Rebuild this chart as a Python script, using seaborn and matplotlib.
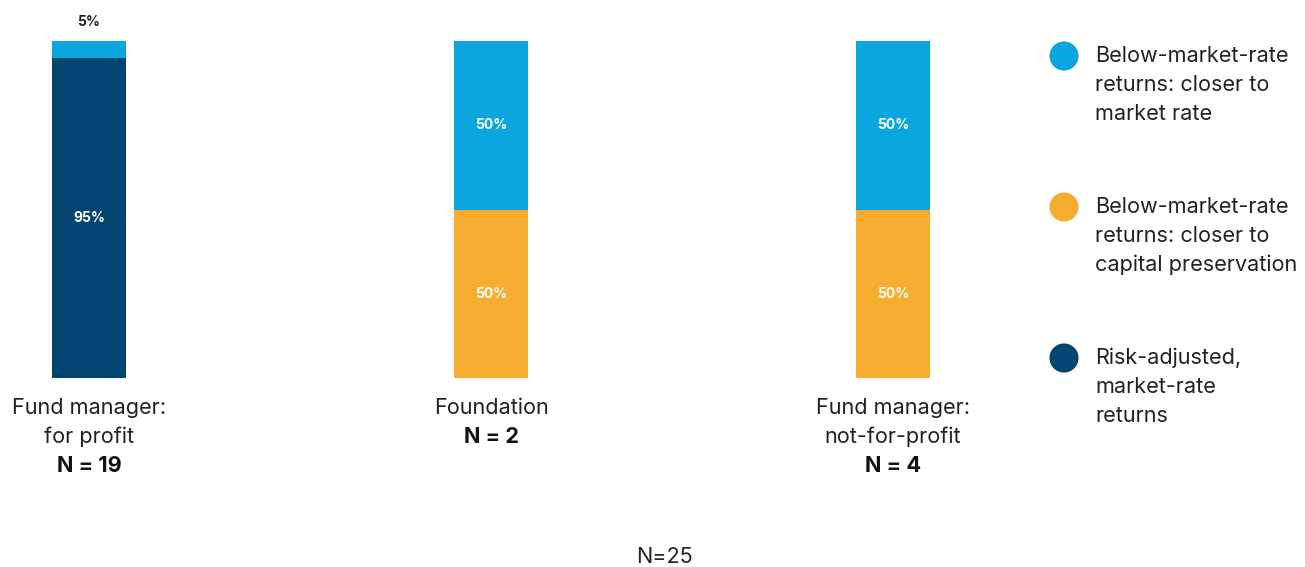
import numpy as np
import pandas as pd
import seaborn as sns
import matplotlib.pyplot as plt

# data
groups = ["for_profit", "foundation", "not_for_profit"]
group_labels = [["Fund manager:", "for profit"], ["Foundation"], ["Fund manager:", "not-for-profit"]]
group_n = [19, 2, 4]
market_rate = [95, 0, 0]          # Risk-adjusted, market-rate returns
capital_pres = [0, 50, 50]        # Below-market-rate: closer to capital preservation
closer_market = [5, 50, 50]       # Below-market-rate: closer to market rate
total_n = 25

series_names = [["Below-market-rate", "returns: closer to", "market rate"],
                ["Below-market-rate", "returns: closer to", "capital preservation"],
                ["Risk-adjusted,", "market-rate", "returns"]]
c_blue, c_orange, c_navy = "#0CA6DF", "#F7AE30", "#044470"

sns.set_style("white")
plt.rcParams['font.family'] = ['Inter', 'DejaVu Sans']

df = pd.DataFrame({'group': groups, 'navy': market_rate, 'orange': capital_pres, 'blue': closer_market})
df['cum_navy'] = df['navy']
df['cum_orange'] = df['navy'] + df['orange']
df['cum_blue'] = df['cum_orange'] + df['blue']

fig = plt.figure(figsize=[13.05, 5.67], dpi=100)
ax = fig.add_axes([0, 189/567, 1000/1305, 337/567])

bw = 74/402
for col, color in [('cum_blue', c_blue), ('cum_orange', c_orange), ('cum_navy', c_navy)]:
    sns.barplot(data=df, x='group', y=col, color=color, width=bw, saturation=1,
                linewidth=0, edgecolor='none', ax=ax)

ax.set_xlim(-89/402, (1000-89)/402)
ax.set_ylim(0, 100)
ax.axis('off')

# segment labels
for i, row in df.iterrows():
    base = 0
    for seg in ['navy', 'orange', 'blue']:
        v = row[seg]
        if v >= 10:
            ax.text(i, base + v/2, f"{v}%", color='white', fontsize=10, fontweight='bold',
                    ha='center', va='center')
        elif v > 0:
            ax.text(i, 100 + 19/337*100, f"{v}%", color='#222222', fontsize=10, fontweight='bold',
                    ha='center', va='center')
        base += v

# category labels under bars
step = 29/337
fs = 15.6
for i, (lines, n) in enumerate(zip(group_labels, group_n)):
    y = -30/337
    for ln in lines:
        ax.text(i, y, ln, transform=ax.get_xaxis_transform(), ha='center', va='center',
                fontsize=fs, color='#222222')
        y -= step
    ax.text(i, y, f"N = {n}", transform=ax.get_xaxis_transform(), ha='center', va='center',
            fontsize=fs, fontweight='bold', color='#111111')

# legend on an overlay in pixel coords
ov = fig.add_axes([0, 0, 1, 1], zorder=5)
ov.set_xlim(0, 1305)
ov.set_ylim(567, 0)
ov.axis('off')
for k, (names, color) in enumerate(zip(series_names, [c_blue, c_orange, c_navy])):
    y0 = 56 + k*151
    ov.scatter([1064], [y0], s=440, color=color, edgecolor='none')
    for j, ln in enumerate(names):
        ov.text(1095, y0 + j*29, ln, ha='left', va='center', fontsize=fs, color='#222222')

ov.text(664, 557, f"N={total_n}", ha='center', va='center', fontsize=fs, color='#222222')

plt.savefig('out.png', dpi=100)
